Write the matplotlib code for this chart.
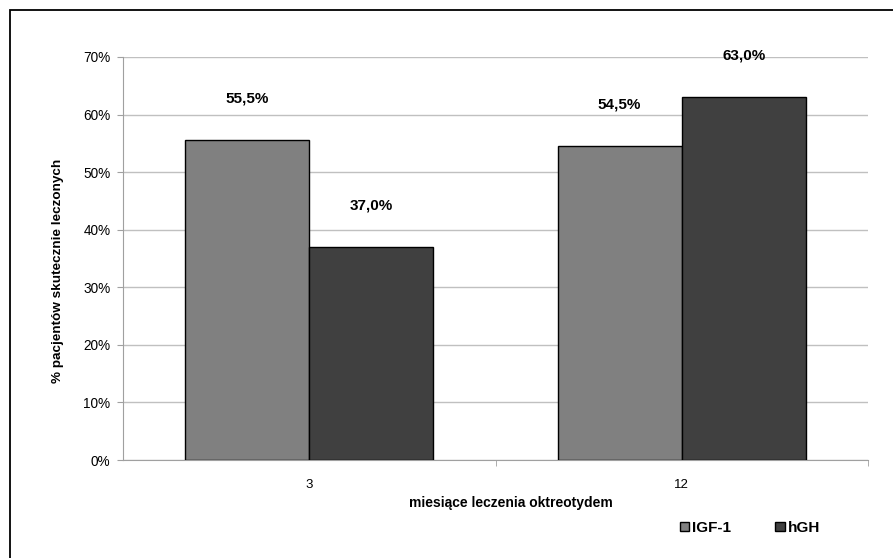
import matplotlib
matplotlib.use("Agg")
import matplotlib.pyplot as plt
from matplotlib.patches import Rectangle
from matplotlib.ticker import FuncFormatter
import numpy as np

plt.rcParams['font.family'] = ['Liberation Sans', 'DejaVu Sans']

months = ['3', '12']
series = ['IGF-1', 'hGH']
igf1 = [55.5, 54.5]
hgh = [37.0, 63.0]
colors = ['#808080', '#404040']
yticks = [0, 10, 20, 30, 40, 50, 60, 70]

fig = plt.figure(figsize=(8.93, 5.58), dpi=100)
ax = fig.add_axes([123 / 893, 1 - 460 / 558, 745 / 893, 403 / 558])

# outer frame of the chart area
fig.patches.append(Rectangle((10 / 893, -0.1), 1.1, 1 - 10 / 558 + 0.1,
                             transform=fig.transFigure, fill=False,
                             edgecolor='black', linewidth=1.3))

x = np.arange(len(months))
w = 1 / 3
b1 = ax.bar(x - w / 2, igf1, w, color=colors[0], edgecolor='black',
            linewidth=1.0, label=series[0], zorder=3)
b2 = ax.bar(x + w / 2, hgh, w, color=colors[1], edgecolor='black',
            linewidth=1.0, label=series[1], zorder=3)

# value labels above the bars (decimal comma)
for bars, vals in ((b1, igf1), (b2, hgh)):
    for rect, v in zip(bars, vals):
        ax.annotate(('%.1f%%' % v).replace('.', ','),
                    (rect.get_x() + rect.get_width() / 2, v),
                    xytext=(0, 25), textcoords='offset points',
                    ha='center', va='bottom', fontsize=11,
                    fontweight='bold')

ax.set_xlim(-0.5, 1.5)
ax.set_ylim(0, 70)
ax.set_yticks(yticks)
ax.yaxis.set_major_formatter(FuncFormatter(lambda v, p: '%d%%' % v))
ax.set_xticks(x)
ax.set_xticklabels(months)
ax.set_xticks([0.5, 1.5], minor=True)
ax.tick_params(axis='x', which='major', length=0, pad=14, labelsize=9.5)
ax.tick_params(axis='x', which='minor', length=4, color='#a0a0a0')
ax.tick_params(axis='y', length=4, color='#a0a0a0', labelsize=9.8, pad=5)

ax.grid(axis='y', color='#c0c0c0', linewidth=1.0, zorder=0)
for s in ('top', 'right'):
    ax.spines[s].set_visible(False)
for s in ('left', 'bottom'):
    ax.spines[s].set_color('#a0a0a0')

ax.set_ylabel('% pacjentów skutecznie leczonych', fontsize=9.7,
              fontweight='bold')
ax.yaxis.set_label_coords(-0.079, 0.47)
ax.set_xlabel('miesiące leczenia oktreotydem', fontsize=10,
              fontweight='bold')
ax.xaxis.set_label_coords(0.52, -0.09)

fig.legend(handles=[b1, b2], labels=series, loc='center',
           bbox_to_anchor=(750 / 893, 1 - 528 / 558), ncol=2,
           frameon=False, handlelength=0.6, handleheight=0.6,
           handletextpad=0.2, columnspacing=2.9,
           prop={'weight': 'bold', 'size': 11})

fig.savefig('out.png', dpi=100, facecolor='white')
